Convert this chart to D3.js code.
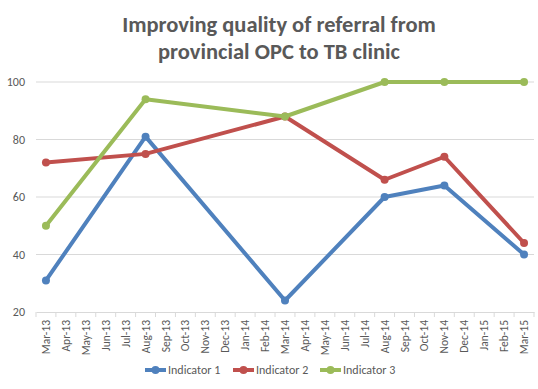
<!DOCTYPE html>
<html>
<head>
<meta charset="utf-8">
<script src="https://cdn.jsdelivr.net/npm/d3@7"></script>
<style>
  body { margin: 0; background: #fff; }
  svg { display: block; font-family: Carlito, Calibri, "Open Sans", sans-serif; }
</style>
</head>
<body>
<div id="chart"></div>
<script>
// months on the category axis
var months = ["Mar-13","Apr-13","May-13","Jun-13","Jul-13","Aug-13","Sep-13","Oct-13","Nov-13","Dec-13",
  "Jan-14","Feb-14","Mar-14","Apr-14","May-14","Jun-14","Jul-14","Aug-14","Sep-14","Oct-14","Nov-14",
  "Dec-14","Jan-15","Feb-15","Mar-15"];
// only measured months have values, lines jump over the rest
var measuredMonths = ["Mar-13","Aug-13","Mar-14","Aug-14","Nov-14","Mar-15"];
var indicator1 = [31, 81, 24, 60, 64, 40];
var indicator2 = [72, 75, 88, 66, 74, 44];
var indicator3 = [50, 94, 88, 100, 100, 100];
var seriesNames = ["Indicator 1", "Indicator 2", "Indicator 3"];
var yTicks = [20, 40, 60, 80, 100];

var colors = ["#4F81BD", "#C0504D", "#9BBB59"];
var W = 538, H = 389;
var margin = {left: 36, right: 4, top: 82, bottom: 77};

var svg = d3.select("#chart").append("svg").attr("width", W).attr("height", H);

var x = d3.scaleBand().domain(months).range([margin.left, W - margin.right]);
var y = d3.scaleLinear().domain([20, 100]).range([H - margin.bottom, margin.top]);

// title
var title = svg.append("text").attr("x", 279).attr("text-anchor", "middle")
  .style("font-weight", "bold").style("font-size", "22.5px").style("fill", "#595959");
title.append("tspan").attr("x", 279).attr("y", 32).text("Improving quality of referral from");
title.append("tspan").attr("x", 279).attr("y", 59).text("provincial OPC to TB clinic");

// gridlines
svg.append("g").selectAll("line").data(yTicks.slice(1)).enter().append("line")
  .attr("x1", margin.left).attr("x2", W - margin.right)
  .attr("y1", function(d){ return y(d); }).attr("y2", function(d){ return y(d); })
  .style("stroke", "#d9d9d9").style("stroke-width", 1);

// y labels
svg.append("g").selectAll("text").data(yTicks).enter().append("text")
  .attr("x", 25).attr("y", function(d){ return y(d) + 4; })
  .attr("text-anchor", "end").style("font-size", "12px").style("fill", "#595959")
  .text(function(d){ return d; });

// x axis
var xAxis = svg.append("g").attr("transform", "translate(0," + y(20) + ")")
  .call(d3.axisBottom(x).tickSize(0).tickPadding(0));
xAxis.select(".domain").style("stroke", "#d9d9d9");
xAxis.selectAll(".tick text")
  .attr("transform", "rotate(-90)").attr("x", -8).attr("y", 0).attr("dy", "0.35em")
  .style("text-anchor", "end").style("font-size", "11.5px").style("fill", "#595959")
  .style("font-family", "Carlito, Calibri, 'Open Sans', sans-serif");
// boundary tick marks
xAxis.selectAll(".bound").data(months.concat(["end"])).enter().append("line")
  .attr("x1", function(d, i){ return margin.left + i * x.step(); })
  .attr("x2", function(d, i){ return margin.left + i * x.step(); })
  .attr("y1", 0).attr("y2", 5).style("stroke", "#d9d9d9");

// series
var allSeries = [indicator1, indicator2, indicator3].map(function(vals, i){
  return { name: seriesNames[i], color: colors[i],
    points: vals.map(function(v, j){ return {m: measuredMonths[j], v: v}; }) };
});
var line = d3.line()
  .x(function(d){ return x(d.m) + x.bandwidth() / 2; })
  .y(function(d){ return y(d.v); });

allSeries.forEach(function(s){
  var g = svg.append("g");
  g.append("path").datum(s.points).attr("d", line)
    .style("fill", "none").style("stroke", s.color).style("stroke-width", 4)
    .style("stroke-linejoin", "round").style("stroke-linecap", "round");
  g.selectAll("circle").data(s.points).enter().append("circle")
    .attr("cx", function(d){ return x(d.m) + x.bandwidth() / 2; })
    .attr("cy", function(d){ return y(d.v); })
    .attr("r", 4).style("fill", s.color);
});

// legend
var legendX = [145, 233, 320];
var legend = svg.append("g").selectAll("g").data(allSeries).enter().append("g")
  .attr("transform", function(d, i){ return "translate(" + legendX[i] + ",370)"; });
legend.append("line").attr("x1", 0).attr("x2", 21).attr("y1", 0).attr("y2", 0)
  .style("stroke", function(d){ return d.color; }).style("stroke-width", 4);
legend.append("circle").attr("cx", 10.5).attr("cy", 0).attr("r", 4)
  .style("fill", function(d){ return d.color; });
legend.append("text").attr("x", 23).attr("y", 4).style("font-size", "12px").style("fill", "#595959")
  .text(function(d){ return d.name; });
</script>
</body>
</html>
